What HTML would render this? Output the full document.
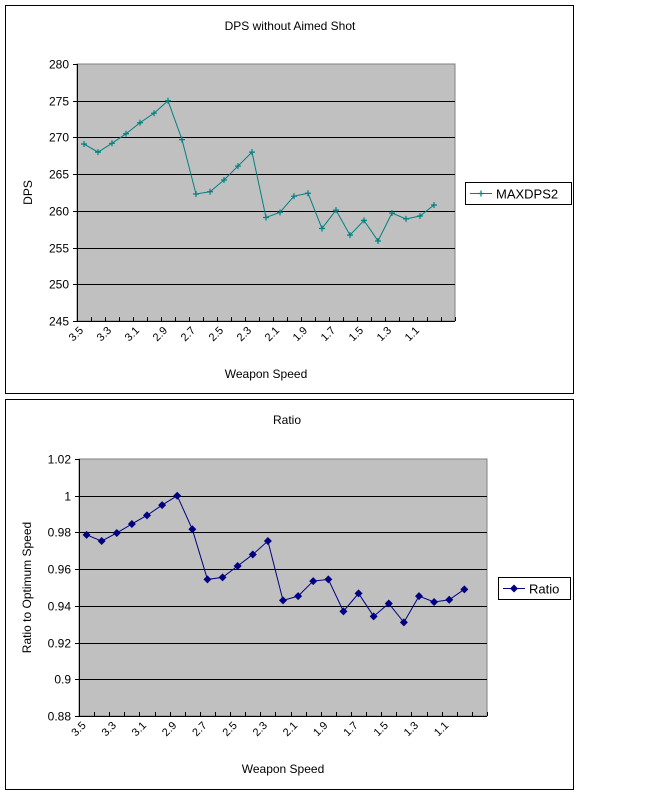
<!DOCTYPE html>
<html><head><meta charset="utf-8"><style>
body{margin:0;background:#fff;width:652px;height:800px;overflow:hidden;font-family:"Liberation Sans",sans-serif}
svg text{font-family:"Liberation Sans",sans-serif;fill:#000}
</style></head><body>
<svg id="svg" width="652" height="800">
<rect x="5.5" y="5.5" width="568" height="388" fill="#fff" stroke="#000"/>
<rect x="5.5" y="399.5" width="568" height="390" fill="#fff" stroke="#000"/>
<g id="c1"></g><g id="c2"></g>
</svg>
<script>
const categories=["3.5","3.4","3.3","3.2","3.1","3.0","2.9","2.8","2.7","2.6","2.5","2.4","2.3","2.2","2.1","2.0","1.9","1.8","1.7","1.6","1.5","1.4","1.3","1.2","1.1","1.0",""];
const dpsValues=[269.1,268.0,269.2,270.5,272.0,273.3,275.0,269.7,262.3,262.6,264.2,266.1,268.0,259.1,259.8,262.0,262.4,257.6,260.1,256.7,258.7,255.9,259.7,258.9,259.3,260.8];
const ratioValues=[0.9787,0.9753,0.9797,0.9846,0.9893,0.9949,1.0,0.9817,0.9544,0.9555,0.9617,0.968,0.9753,0.943,0.9453,0.9535,0.9544,0.937,0.9468,0.9343,0.9413,0.931,0.9453,0.9421,0.9433,0.949];
const dpsTicks=[245,250,255,260,265,270,275,280];
const ratioTicks=[0.88,0.9,0.92,0.94,0.96,0.98,1,1.02];
const NS="http://www.w3.org/2000/svg";
function mk(p,tag,a){const e=document.createElementNS(NS,tag);for(const k in a)e.setAttribute(k,a[k]);p.appendChild(e);return e;}
function draw(g,cfg){
  const {x0,x1,y0,y1,ticks,vals,color,marker,title,titleY,ytitle,ytX,legend,lg}=cfg;
  const n=categories.length,w=(x1-x0)/n;
  const min=ticks[0],max=ticks[ticks.length-1];
  const xs=i=>x0+w*(i+0.5);
  const ys=v=>y1-(v-min)/(max-min)*(y1-y0);
  let e=mk(g,'text',{x:(x0+x1)/2+(cfg.tOff||0),y:titleY,'text-anchor':'middle','font-size':12});e.textContent=title;
  
  e=mk(g,'rect',{x:x0,y:y0,width:x1-x0,height:y1-y0,fill:'#c0c0c0',stroke:'#808080'});
  
  ticks.forEach(t=>{const y=Math.round(ys(t))+0.5;
    if(t!==min&&t!==max){e=mk(g,'line',{x1:x0,x2:x1,y1:y,y2:y,stroke:'#000'});}
    e=mk(g,'line',{x1:x0-4,x2:x0,y1:y,y2:y,stroke:'#000'});
    e=mk(g,'text',{x:x0-8,y:y+4,'text-anchor':'end','font-size':12});e.textContent=String(t);
    });
  mk(g,'line',{x1:x0+0.5,x2:x0+0.5,y1:y0,y2:y1,stroke:'#000'});
  e=mk(g,'line',{x1:x0,x2:x1,y1:y1+0.5,y2:y1+0.5,stroke:'#000'});
  
  for(let i=0;i<=n;i++){const x=Math.round(x0+w*i)+0.5;mk(g,'line',{x1:x,x2:x,y1:y1,y2:y1-4,stroke:'#000'});}
  categories.forEach((c,i)=>{if(i%2||!c)return;
    const x=xs(i),y=y1+10;
    e=mk(g,'text',{x:x,y:y,'text-anchor':'end','font-size':11,transform:`rotate(-45 ${x} ${y})`});e.textContent=c;
    });
  e=mk(g,'text',{x:(x0+x1)/2,y:y1+57,'text-anchor':'middle','font-size':12});e.textContent='Weapon Speed';
  
  const ym=(y0+y1)/2;
  e=mk(g,'text',{x:ytX,y:ym,'text-anchor':'middle','font-size':12,transform:`rotate(-90 ${ytX} ${ym})`});e.textContent=ytitle;
  
  e=mk(g,'polyline',{points:vals.map((v,i)=>xs(i)+','+ys(v)).join(' '),fill:'none',stroke:color,'stroke-width':1});
  
  function mark(x,y){let m;
    if(marker==='plus'){m=mk(g,'path',{d:`M${x-3},${y}H${x+3}M${x},${y-3}V${y+3}`,stroke:color,'stroke-width':1.2});}
    else{m=mk(g,'path',{d:`M${x},${y-4}L${x+4},${y}L${x},${y+4}L${x-4},${y}Z`,fill:color});}
    return m;}
  vals.forEach((v,i)=>{const m=mark(xs(i),ys(v));
    
    });
  e=mk(g,'rect',{x:lg[0]+0.5,y:lg[1]+0.5,width:lg[2],height:lg[3],fill:'#fff',stroke:'#000'});
  
  const ly=lg[1]+lg[3]/2+0.5;
  mk(g,'line',{x1:lg[0]+5,x2:lg[0]+27,y1:ly,y2:ly,stroke:color});
  mark(lg[0]+16,ly);
  e=mk(g,'text',{x:lg[0]+31,y:ly+5,'font-size':13});e.textContent=legend;
  
}
draw(document.getElementById('c1'),{x0:77,x1:455,y0:64,y1:321,ticks:dpsTicks,vals:dpsValues,color:'#008080',marker:'plus',title:'DPS without Aimed Shot',titleY:30,tOff:24,ytitle:'DPS',ytX:32,legend:'MAXDPS2',lg:[465,182,106,22]});
draw(document.getElementById('c2'),{x0:79,x1:487,y0:459,y1:716,ticks:ratioTicks,vals:ratioValues,color:'#000080',marker:'diamond',title:'Ratio',titleY:424,tOff:4,ytitle:'Ratio to Optimum Speed',ytX:31,legend:'Ratio',lg:[498,577,72,22]});
</script>
</body></html>
